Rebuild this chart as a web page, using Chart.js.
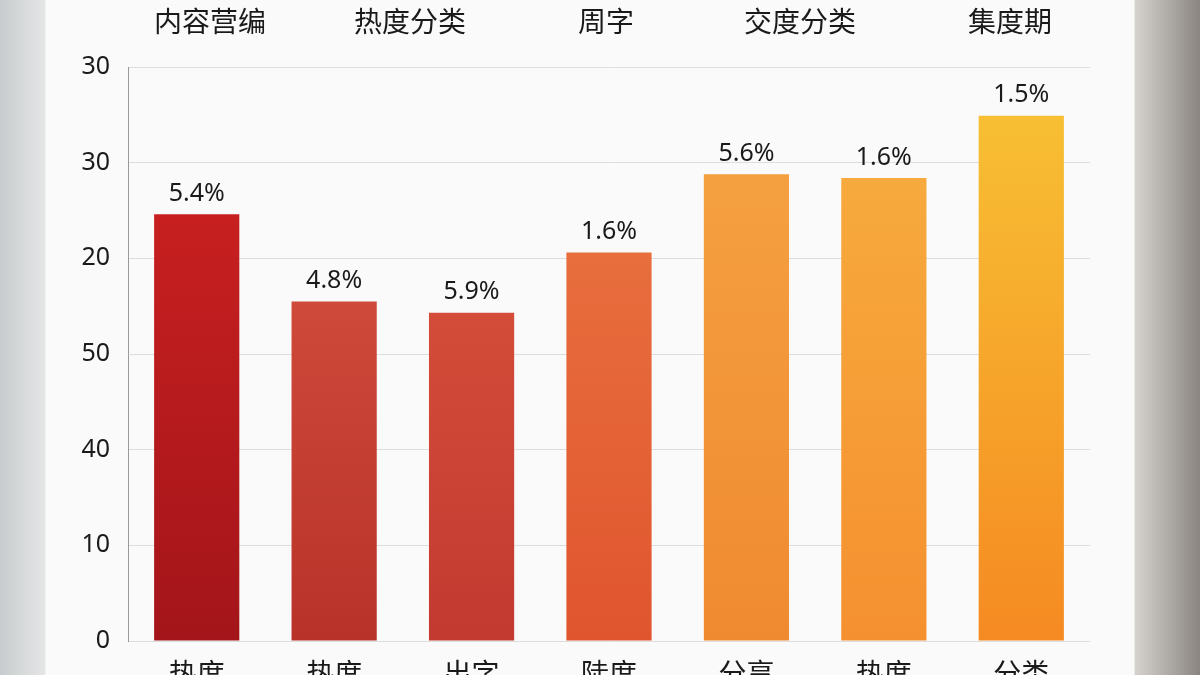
<!DOCTYPE html>
<html><head><meta charset="utf-8">
<script src="https://cdn.jsdelivr.net/npm/chart.js@4"></script>
<style>
html,body{margin:0;width:1200px;height:675px;overflow:hidden;font-family:"Noto Sans CJK SC",sans-serif;}
body{background:linear-gradient(90deg,#c9ccce 0,#e4e6e6 45px,#fff 46px,#fff 1134px,#d6d3cf 1135px,#8a8580 1200px);}
#panel{position:absolute;left:46px;top:0;width:1088px;height:675px;background:#fafafa;}
#wrap{position:absolute;left:0;top:0;width:1200px;height:700px;}
.top{position:absolute;top:0px;font-size:28px;color:#1a1a1a;transform:translateX(-50%);white-space:nowrap;}
</style></head><body>
<div id="panel"></div>
<div id="wrap"><canvas id="c" width="1200" height="700"></canvas></div>
<script>
const categories=["热度","热度","出字","陡度","分享","热度","分类"];
const values=[4.46,3.55,3.43,4.06,4.88,4.84,5.49];
const valueLabels=["5.4%","4.8%","5.9%","1.6%","5.6%","1.6%","1.5%"];
const yTickLabels=["0","10","40","50","20","30","30"];
const topLabels=["内容营编","热度分类","周字","交度分类","集度期"];
const topX=[210,410,606,800,1010];
const topCol=[["#d42322","#a3151a"],["#de5a44","#b8322a"],["#e05a40","#c23a30"],["#ec7a45","#e0552e"],["#f5a545","#f08a30"],["#f7b040","#f59030"],["#f8c435","#f58a22"]];
topLabels.forEach((t,i)=>{const d=document.createElement('div');d.className='top';d.textContent=t;d.style.left=topX[i]+'px';document.body.appendChild(d);});
const ctx=document.getElementById('c').getContext('2d');
const lbl={id:'lbl',afterDatasetsDraw(ch){const m=ch.getDatasetMeta(0);const c=ch.ctx;c.save();c.font='25px "Noto Sans", sans-serif';c.fillStyle='#1a1a1a';c.textAlign='center';c.textBaseline='bottom';m.data.forEach((b,i)=>c.fillText(valueLabels[i],b.x,b.y-8));c.restore();}};
new Chart(ctx,{type:'bar',data:{labels:categories,datasets:[{data:values,
backgroundColor:(c)=>{const ch=c.chart;const a=ch.chartArea;if(!a)return '#d00';const g=ch.ctx.createLinearGradient(0,a.top,0,a.bottom);const k=topCol[c.dataIndex];g.addColorStop(0,k[0]);g.addColorStop(1,k[1]);return g;},
categoryPercentage:1,barPercentage:0.62}]},
options:{responsive:false,animation:false,layout:{padding:{top:67,right:110,left:0,bottom:0}},
plugins:{legend:{display:false},tooltip:{enabled:false}},
scales:{y:{min:0,max:6,afterFit(s){s.width=128;},border:{color:'#999'},grid:{color:'#dddddd',drawTicks:false},
ticks:{stepSize:1,padding:18,color:'#1a1a1a',font:{size:25,family:'"Noto Sans", sans-serif'},callback:(v)=>yTickLabels[v]}},
x:{afterFit(s){s.height=59;},grid:{display:false},border:{display:false},ticks:{color:'#1a1a1a',padding:8,font:{size:28,family:'"Noto Sans CJK SC"'}}}}},plugins:[lbl]});
</script></body></html>
